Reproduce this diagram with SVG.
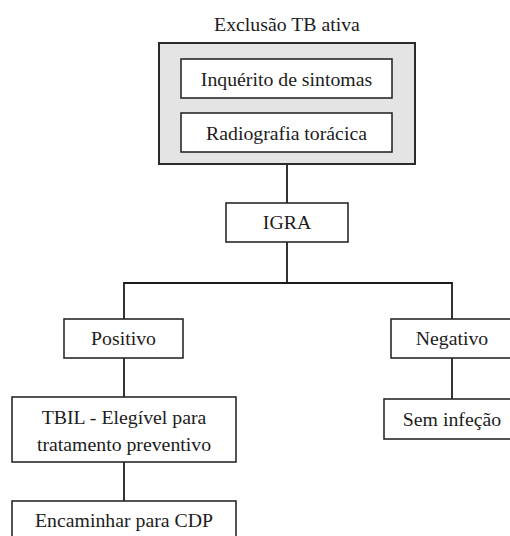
<svg xmlns="http://www.w3.org/2000/svg" width="510" height="536" viewBox="0 0 510 536">
<style>
.t{font-size:19.8px;fill:#1c1c1c;text-anchor:middle}
.box{fill:#fff;stroke:#2a2a2a;stroke-width:1.6}
.outer{fill:#e4e4e4;stroke:#2a2a2a;stroke-width:2}
.conn{fill:none;stroke:#1c1c1c;stroke-width:1.8}
</style>
<rect width="510" height="536" fill="#fff"/>
<g id="connectors">
<path class="conn" d="M287 164V203"/>
<path class="conn" d="M287 242V283"/>
<path class="conn" d="M124 319V283H452V319"/>
<path class="conn" d="M124 358V397"/>
<path class="conn" d="M124 462V501"/>
<path class="conn" d="M452 358V399"/>
</g>
<g font-family="Liberation Serif, Times New Roman, serif" class="t">
<g id="exclusao">
<text x="287" y="31">Exclusão TB ativa</text>
<rect class="outer" x="159" y="43" width="256" height="121"/>
</g>
<g id="inquerito">
<rect class="box" x="181" y="59" width="211" height="39"/>
<text x="286.5" y="86">Inquérito de sintomas</text>
</g>
<g id="radiografia">
<rect class="box" x="181" y="113" width="211" height="39"/>
<text x="286.5" y="140">Radiografia torácica</text>
</g>
<g id="igra">
<rect class="box" x="226" y="203" width="122" height="39"/>
<text x="287" y="229">IGRA</text>
</g>
<g id="positivo">
<rect class="box" x="64" y="319" width="119" height="39"/>
<text x="123.5" y="345">Positivo</text>
</g>
<g id="negativo">
<rect class="box" x="391" y="319" width="122" height="39"/>
<text x="452" y="345">Negativo</text>
</g>
<g id="tbil">
<rect class="box" x="12" y="397" width="224" height="65"/>
<text x="124" y="424">TBIL - Elegível para</text>
<text x="124" y="451">tratamento preventivo</text>
</g>
<g id="sem-infecao">
<rect class="box" x="384" y="399" width="136" height="40"/>
<text x="452" y="426">Sem infeção</text>
</g>
<g id="encaminhar">
<rect class="box" x="12" y="501" width="224" height="45"/>
<text x="124" y="527">Encaminhar para CDP</text>
</g>
</g>
</svg>
